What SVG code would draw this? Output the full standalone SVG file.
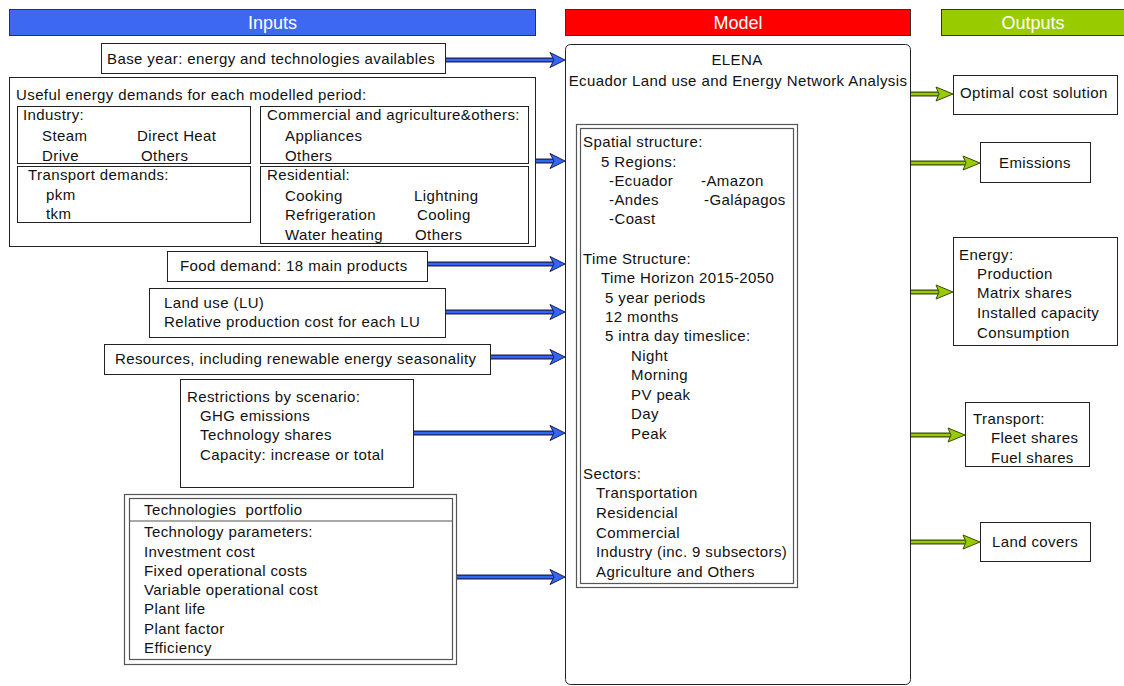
<svg xmlns="http://www.w3.org/2000/svg" xmlns:xlink="http://www.w3.org/1999/xlink" width="1124" height="686" viewBox="0 0 1124 686">
<style>
.t{font-family:"Liberation Sans",Arial,sans-serif;font-size:15px;letter-spacing:0.4px;fill:#111}
.h{font-family:"Liberation Sans",Arial,sans-serif;font-size:18px;fill:#fff;text-anchor:middle}
.c{text-anchor:middle}
.box{fill:#fff;stroke:#222;stroke-width:1}
.dbl{fill:none;stroke:#555;stroke-width:1.2}
.sd{stroke:#1c1f4a;stroke-width:5;fill:none}
.sb{stroke:#3366ff;stroke-width:2.6;fill:none}
.hb{fill:#3366ff;stroke:#1c1f4a;stroke-width:1}
.gd{stroke:#3b4a10;stroke-width:5;fill:none}
.gb{stroke:#99cc00;stroke-width:2.6;fill:none}
.hg{fill:#99cc00;stroke:#3b4a10;stroke-width:1}
</style>
<defs>
<polygon id="headB" points="0,0 -15,-7.5 -11,0 -15,7.5"/>
<polygon id="headG" points="0,0 -17,-7 -14,0 -17,7"/>
</defs>
<rect width="1124" height="686" fill="#fff"/>

<g id="header-inputs">
<rect x="9.5" y="9.5" width="526" height="26" fill="#3d68f2" stroke="#333"/>
<text class="h" x="272.5" y="29">Inputs</text>
</g>
<g id="header-model">
<rect x="565.5" y="9.5" width="345" height="26" fill="#ff0000" stroke="#333"/>
<text class="h" x="738" y="29">Model</text>
</g>
<g id="header-outputs">
<rect x="941.5" y="9.5" width="190" height="26" fill="#99cc00" stroke="#333"/>
<text class="h" x="1033" y="29">Outputs</text>
</g>

<g id="base-year">
<rect class="box" x="101.5" y="43.5" width="344" height="30"/>
<text class="t" x="107" y="64">Base year: energy and technologies availables</text>
</g>

<g id="useful-energy">
<rect class="box" x="9.5" y="77.5" width="526" height="169"/>
<text class="t" x="16" y="100">Useful energy demands for each modelled period:</text>
<rect class="box" x="17.5" y="106.5" width="233" height="57"/>
<text class="t" x="23" y="120">Industry:</text>
<text class="t" x="42" y="141">Steam</text>
<text class="t" x="137" y="141">Direct Heat</text>
<text class="t" x="42" y="161">Drive</text>
<text class="t" x="141" y="161">Others</text>
<rect class="box" x="17.5" y="166.5" width="233" height="56"/>
<text class="t" x="28" y="180">Transport demands:</text>
<text class="t" x="46" y="200">pkm</text>
<text class="t" x="46" y="219">tkm</text>
<rect class="box" x="260.5" y="106.5" width="268" height="57"/>
<text class="t" x="267" y="120">Commercial and agriculture&amp;others:</text>
<text class="t" x="285" y="141">Appliances</text>
<text class="t" x="285" y="161">Others</text>
<rect class="box" x="260.5" y="166.5" width="268" height="77"/>
<text class="t" x="267" y="180">Residential:</text>
<text class="t" x="285" y="201">Cooking</text>
<text class="t" x="414" y="201">Lightning</text>
<text class="t" x="285" y="220">Refrigeration</text>
<text class="t" x="417" y="220">Cooling</text>
<text class="t" x="285" y="240">Water heating</text>
<text class="t" x="415" y="240">Others</text>
</g>

<g id="food-demand">
<rect class="box" x="167.5" y="251.5" width="260" height="30"/>
<text class="t" x="180" y="271">Food demand: 18 main products</text>
</g>

<g id="land-use">
<rect class="box" x="149.5" y="288.5" width="296" height="49"/>
<text class="t" x="164" y="308">Land use (LU)</text>
<text class="t" x="164" y="327">Relative production cost for each LU</text>
</g>

<g id="resources">
<rect class="box" x="104.5" y="344.5" width="386" height="30"/>
<text class="t" x="115" y="364">Resources, including renewable energy seasonality</text>
</g>

<g id="restrictions">
<rect class="box" x="180.5" y="379.5" width="233" height="108"/>
<text class="t" x="187" y="402">Restrictions by scenario:</text>
<text class="t" x="200" y="421">GHG emissions</text>
<text class="t" x="200" y="440">Technology shares</text>
<text class="t" x="200" y="460">Capacity: increase or total</text>
</g>

<g id="technologies">
<rect x="124.5" y="494.5" width="332" height="170" fill="#fff" class="dbl"/>
<rect class="dbl" x="129.5" y="498.5" width="323" height="161"/>
<line class="dbl" x1="129.5" y1="521" x2="452.5" y2="521"/>
<text class="t" x="144" y="515" style="white-space:pre">Technologies  portfolio</text>
<text class="t" x="144" y="537">Technology parameters:</text>
<text class="t" x="144" y="557">Investment cost</text>
<text class="t" x="144" y="576">Fixed operational costs</text>
<text class="t" x="144" y="595">Variable operational cost</text>
<text class="t" x="144" y="614">Plant life</text>
<text class="t" x="144" y="634">Plant factor</text>
<text class="t" x="144" y="653">Efficiency</text>
</g>

<g id="model">
<rect x="565.5" y="44.5" width="345" height="640" rx="5" fill="#fff" stroke="#222"/>
<text class="t c" x="737" y="65">ELENA</text>
<text class="t c" x="738" y="86">Ecuador Land use and Energy Network Analysis</text>
<rect class="dbl" x="576.5" y="124.5" width="221" height="463"/>
<rect class="dbl" x="580.5" y="128.5" width="213" height="455"/>
<text class="t" x="583" y="147">Spatial structure:</text>
<text class="t" x="601" y="167">5 Regions:</text>
<text class="t" x="609" y="186">-Ecuador</text>
<text class="t" x="701" y="186">-Amazon</text>
<text class="t" x="609" y="205">-Andes</text>
<text class="t" x="704" y="205">-Galápagos</text>
<text class="t" x="609" y="224">-Coast</text>
<text class="t" x="583" y="264">Time Structure:</text>
<text class="t" x="601" y="283">Time Horizon 2015-2050</text>
<text class="t" x="605" y="303">5 year periods</text>
<text class="t" x="605" y="322">12 months</text>
<text class="t" x="605" y="341">5 intra day timeslice:</text>
<text class="t" x="631" y="361">Night</text>
<text class="t" x="631" y="380">Morning</text>
<text class="t" x="631" y="400">PV peak</text>
<text class="t" x="631" y="419">Day</text>
<text class="t" x="631" y="439">Peak</text>
<text class="t" x="583" y="479">Sectors:</text>
<text class="t" x="596" y="498">Transportation</text>
<text class="t" x="596" y="518">Residencial</text>
<text class="t" x="596" y="538">Commercial</text>
<text class="t" x="596" y="557">Industry (inc. 9 subsectors)</text>
<text class="t" x="596" y="577">Agriculture and Others</text>
</g>

<g id="out-optimal">
<rect class="box" x="953.5" y="75.5" width="164" height="39"/>
<text class="t" x="960" y="98">Optimal cost solution</text>
</g>
<g id="out-emissions">
<rect class="box" x="980.5" y="142.5" width="110" height="40"/>
<text class="t c" x="1035" y="168">Emissions</text>
</g>
<g id="out-energy">
<rect class="box" x="953.5" y="237.5" width="164" height="108"/>
<text class="t" x="959" y="260">Energy:</text>
<text class="t" x="977" y="279">Production</text>
<text class="t" x="977" y="298">Matrix shares</text>
<text class="t" x="977" y="318">Installed capacity</text>
<text class="t" x="977" y="338">Consumption</text>
</g>
<g id="out-transport">
<rect class="box" x="965.5" y="402.5" width="124" height="64"/>
<text class="t" x="973" y="424">Transport:</text>
<text class="t" x="991" y="443">Fleet shares</text>
<text class="t" x="991" y="463">Fuel shares</text>
</g>
<g id="out-land">
<rect class="box" x="980.5" y="522.5" width="110" height="39"/>
<text class="t c" x="1035" y="547">Land covers</text>
</g>

<g id="connectors">
<path class="sd" d="M446 60H553M536 161H553M428 264H553M446 312H553M491 357H553M414 433H553M457 577H553"/>
<path class="sb" d="M446 60H554M536 161H554M428 264H554M446 312H554M491 357H554M414 433H554M457 577H554"/>
<use xlink:href="#headB" class="hb" x="565" y="60"/>
<use xlink:href="#headB" class="hb" x="565" y="161"/>
<use xlink:href="#headB" class="hb" x="565" y="264"/>
<use xlink:href="#headB" class="hb" x="565" y="312"/>
<use xlink:href="#headB" class="hb" x="565" y="357"/>
<use xlink:href="#headB" class="hb" x="565" y="433"/>
<use xlink:href="#headB" class="hb" x="565" y="577"/>
<path class="gd" d="M911 94H938M911 163H965M911 292H938M911 435H951M911 542H965"/>
<path class="gb" d="M911 94H939M911 163H966M911 292H939M911 435H952M911 542H966"/>
<use xlink:href="#headG" class="hg" x="953" y="94"/>
<use xlink:href="#headG" class="hg" x="980" y="163"/>
<use xlink:href="#headG" class="hg" x="953" y="292"/>
<use xlink:href="#headG" class="hg" x="965" y="435"/>
<use xlink:href="#headG" class="hg" x="980" y="542"/>
</g>
</svg>
